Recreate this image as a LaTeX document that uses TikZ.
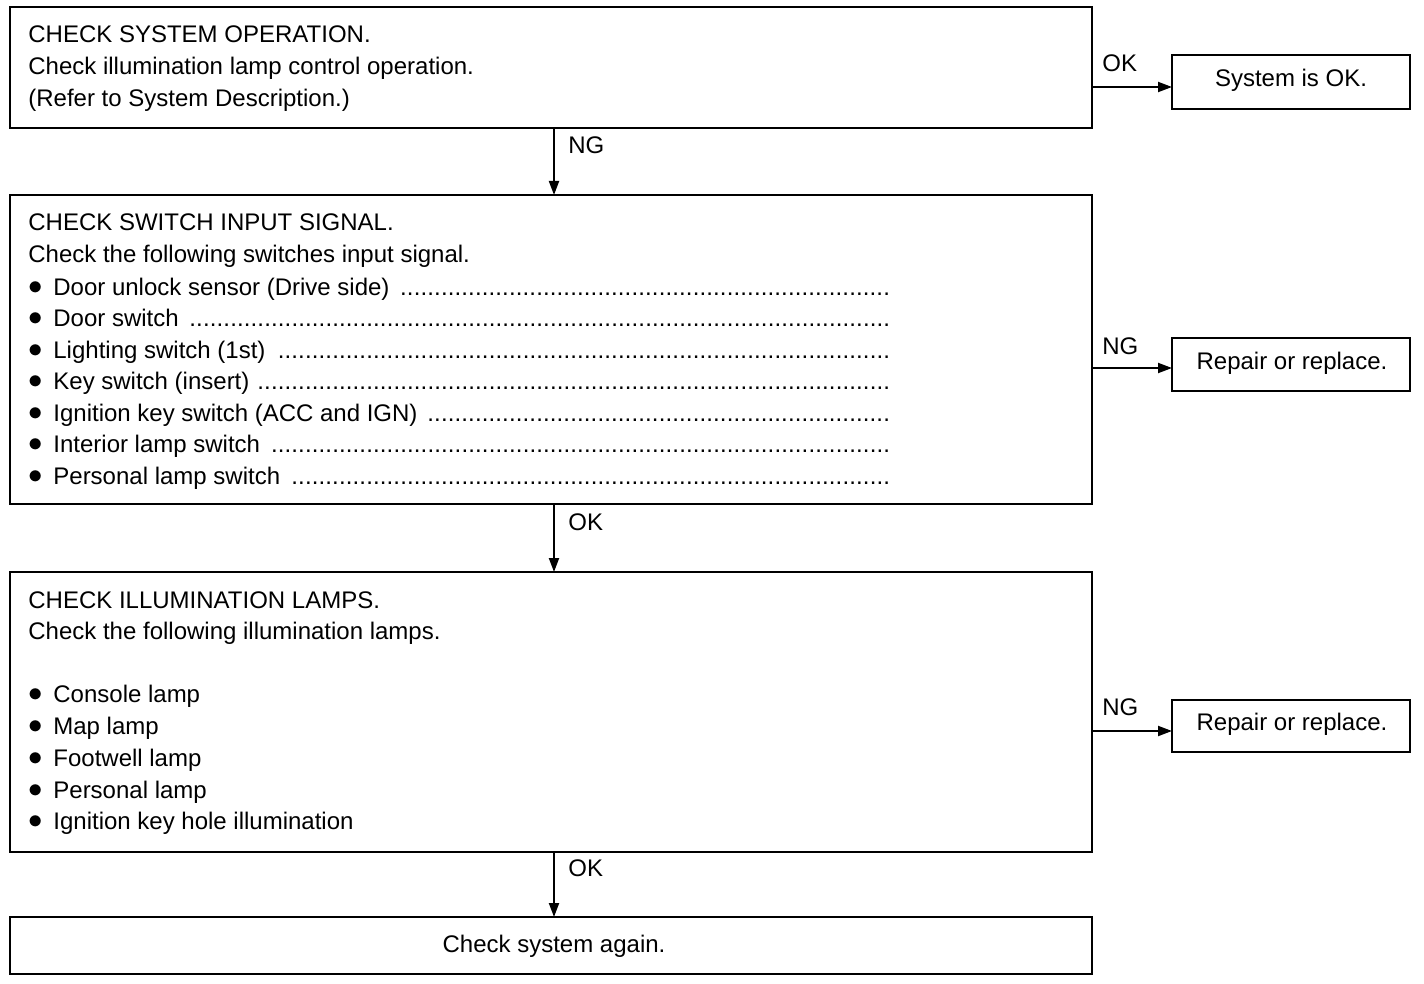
\documentclass[tikz,border=0pt]{standalone}
\usepackage{fontspec}
\setmainfont{Liberation Sans}
\usetikzlibrary{arrows.meta}
\newcommand\ldr{\leaders\hbox to 3.4pt{\hss.\hss}\hfill}
\newcommand\bul{\makebox[12.5pt][l]{\raisebox{0.3pt}{\scalebox{1.2}{$\bullet$}}}}
\begin{document}
\begin{tikzpicture}[x=0.5pt,y=-0.5pt,
  box/.style={draw,line width=1pt,inner sep=0pt,outer sep=0pt},
  txt/.style={anchor=base west,inner sep=0pt,font=\fontsize{12}{14}\selectfont},
  ctxt/.style={anchor=base,inner sep=0pt,font=\fontsize{12}{14}\selectfont},
  arr/.style={line width=1pt,-{Triangle[length=7pt,width=5pt]}}]
\useasboundingbox (0,0) rectangle (1424,984);
% boxes
\node[box,minimum width=541pt,minimum height=60.5pt] (b1) at (551,67.5) {};
\node[box,minimum width=541pt,minimum height=154.5pt] (b2) at (551,349.5) {};
\node[box,minimum width=541pt,minimum height=140pt] (b3) at (551,712) {};
\node[box,minimum width=541pt,minimum height=28.5pt] (b4) at (551,945.5) {};
\node[box,minimum width=119pt,minimum height=27pt] (r1) at (1291,82) {};
\node[box,minimum width=119pt,minimum height=26.5pt] (r2) at (1291,364.5) {};
\node[box,minimum width=119pt,minimum height=26pt] (r3) at (1291,726) {};
% box 1 text
\node[txt] (t11) at (28,43) {CHECK SYSTEM OPERATION.};
\node[txt] (t12) at (28,75) {Check illumination lamp control operation.};
\node[txt] (t13) at (28,107) {(Refer to System Description.)};
% box 2 text
\node[txt] (t21) at (28,231) {CHECK SWITCH INPUT SIGNAL.};
\node[txt] (t22) at (28,263) {Check the following switches input signal.};
\node[txt] (t23) at (28,295) {\bul\makebox[418.5pt][l]{Door unlock sensor (Drive side)\ \ldr}};
\node[txt] (t24) at (28,326.5) {\bul\makebox[418.5pt][l]{Door switch\ \ldr}};
\node[txt] (t25) at (28,358) {\bul\makebox[418.5pt][l]{Lighting switch (1st)\ \ldr}};
\node[txt] (t26) at (28,389.5) {\bul\makebox[418.5pt][l]{Key switch (insert)\ \ldr}};
\node[txt] (t27) at (28,421) {\bul\makebox[418.5pt][l]{Ignition key switch (ACC and IGN)\ \ldr}};
\node[txt] (t28) at (28,452.5) {\bul\makebox[418.5pt][l]{Interior lamp switch\ \ldr}};
\node[txt] (t29) at (28,484) {\bul\makebox[418.5pt][l]{Personal lamp switch\ \ldr}};
% box 3 text
\node[txt] (t31) at (28,608) {CHECK ILLUMINATION LAMPS.};
\node[txt] (t32) at (28,639) {Check the following illumination lamps.};
\node[txt] (t33) at (28,702) {\bul Console lamp};
\node[txt] (t34) at (28,734) {\bul Map lamp};
\node[txt] (t35) at (28,766) {\bul Footwell lamp};
\node[txt] (t36) at (28,798) {\bul Personal lamp};
\node[txt] (t37) at (28,829) {\bul Ignition key hole illumination};
% box 4 and right boxes text
\node[ctxt] (t41) at (554,952) {Check system again.};
\node[ctxt] (tr1) at (1291,87) {System is OK.};
\node[ctxt] (tr2) at (1292,369) {Repair or replace.};
\node[ctxt] (tr3) at (1292,730) {Repair or replace.};
% connectors
\draw[arr] ([xshift=1.5pt]b1.south) -- ([xshift=1.5pt]b2.north);
\draw[arr] ([xshift=1.5pt]b2.south) -- ([xshift=1.5pt]b3.north);
\draw[arr] ([xshift=1.5pt]b3.south) -- ([xshift=1.5pt]b4.north);
\draw[arr] (b1.east |- 0,87) -- (r1.west |- 0,87);
\draw[arr] (b2.east |- 0,368) -- (r2.west |- 0,368);
\draw[arr] (b3.east |- 0,731) -- (r3.west |- 0,731);
% labels
\node[txt] (l1) at (568,154) {NG};
\node[txt] (l2) at (568,530) {OK};
\node[txt] (l3) at (568,876) {OK};
\node[txt] (l4) at (1102,72) {OK};
\node[txt] (l5) at (1102,354) {NG};
\node[txt] (l6) at (1102,715) {NG};
\end{tikzpicture}
\end{document}
